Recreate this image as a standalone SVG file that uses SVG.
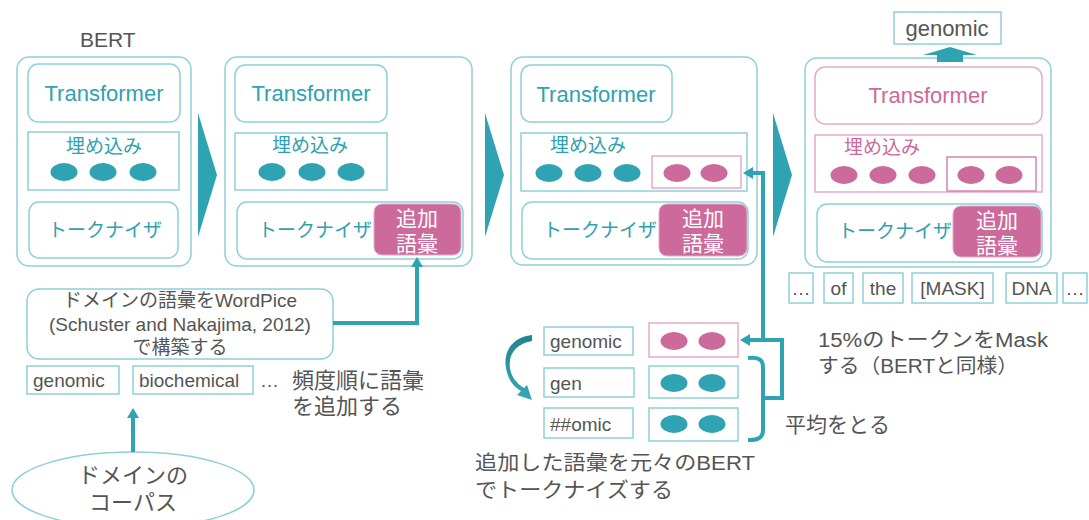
<svg xmlns="http://www.w3.org/2000/svg" width="1089" height="520" viewBox="0 0 1089 520">
  <defs>
    <style>
      text { font-family: "Liberation Sans", "Noto Sans CJK JP", sans-serif; }
      .box { fill: #fff; stroke: #8FD0D8; stroke-width: 1.5; }
      .pbox { fill: #fff; stroke: #E7A9C8; stroke-width: 1.5; }
      .pbox2 { fill: none; stroke: #D684AE; stroke-width: 1.5; }
      .vocab { fill: #CD6A9C; stroke: #E7A9C8; stroke-width: 1; }
      .tl { fill: #2FA1AF; }
      .pk { fill: #CC6A9B; }
      .gy { fill: #555; }
      .wt { fill: #fff; }
      .dot { fill: #2FA3B1; }
      .pdot { fill: #CC6A9B; }
      .conn { fill: none; stroke: #2FA3B1; stroke-width: 4; }
      .chev { fill: #2FA3B1; }
      .c { text-anchor: middle; }
    </style>
    <marker id="ah" viewBox="0 0 10 12" refX="0" refY="6" markerWidth="10" markerHeight="12" markerUnits="userSpaceOnUse" orient="auto">
      <path d="M0,0 L10,6 L0,12 z" fill="#2FA3B1"/>
    </marker>
    <linearGradient id="curveGrad" x1="0" y1="0" x2="0" y2="1">
      <stop offset="0" stop-color="#24838F"/>
      <stop offset="1" stop-color="#35A9B6"/>
    </linearGradient>
  </defs>

  <!-- stage 1: original BERT -->
  <g id="bert-original">
    <text x="80" y="47" font-size="21" class="gy">BERT</text>
    <rect x="17" y="57" width="174" height="209" rx="12" class="box"/>
    <rect x="28" y="64" width="152" height="58" rx="10" class="box"/>
    <text x="104" y="101" font-size="22" class="tl c">Transformer</text>
    <rect x="28" y="132" width="151" height="58" class="box"/>
    <text x="104" y="153" font-size="19" class="tl c">埋め込み</text>
    <ellipse cx="64" cy="172" rx="13.5" ry="9" class="dot"/>
    <ellipse cx="103" cy="172" rx="13.5" ry="9" class="dot"/>
    <ellipse cx="143" cy="172" rx="13.5" ry="9" class="dot"/>
    <rect x="29" y="202" width="149" height="56" rx="10" class="box"/>
    <text x="105" y="237" font-size="19" class="tl c">トークナイザ</text>
  </g>

  <!-- stage 2: vocabulary added to tokenizer -->
  <g id="bert-vocab">
    <rect x="225" y="57" width="247" height="209" rx="12" class="box"/>
    <rect x="235" y="65" width="152" height="57" rx="10" class="box"/>
    <text x="311" y="101" font-size="22" class="tl c">Transformer</text>
    <rect x="235" y="133" width="152" height="57" class="box"/>
    <text x="310" y="152" font-size="19" class="tl c">埋め込み</text>
    <ellipse cx="272" cy="172" rx="13.5" ry="9" class="dot"/>
    <ellipse cx="312" cy="172" rx="13.5" ry="9" class="dot"/>
    <ellipse cx="351" cy="172" rx="13.5" ry="9" class="dot"/>
    <rect x="237" y="202" width="226" height="57" rx="10" class="box"/>
    <text x="315" y="237" font-size="19" class="tl c">トークナイザ</text>
    <rect x="374" y="204" width="87" height="51" rx="8" class="vocab"/>
    <text x="417" y="226" font-size="21" class="wt c">追加</text>
    <text x="417" y="251" font-size="21" class="wt c">語彙</text>
  </g>

  <!-- stage 3: embeddings extended -->
  <g id="bert-embed">
    <rect x="511" y="57" width="246" height="208" rx="12" class="box"/>
    <rect x="521" y="65" width="151" height="57" rx="10" class="box"/>
    <text x="596" y="102" font-size="22" class="tl c">Transformer</text>
    <rect x="521" y="133" width="226" height="58" class="box"/>
    <text x="588" y="152" font-size="19" class="tl c">埋め込み</text>
    <ellipse cx="549" cy="173" rx="13.5" ry="9" class="dot"/>
    <ellipse cx="588" cy="173" rx="13.5" ry="9" class="dot"/>
    <ellipse cx="627" cy="173" rx="13.5" ry="9" class="dot"/>
    <rect x="652" y="156" width="89" height="32" class="pbox"/>
    <ellipse cx="677" cy="173" rx="13.5" ry="9" class="pdot"/>
    <ellipse cx="714" cy="173" rx="13.5" ry="9" class="pdot"/>
    <rect x="522" y="202" width="226" height="57" rx="10" class="box"/>
    <text x="600" y="237" font-size="19" class="tl c">トークナイザ</text>
    <rect x="659" y="204" width="88" height="52" rx="8" class="vocab"/>
    <text x="703" y="226" font-size="21" class="wt c">追加</text>
    <text x="703" y="251" font-size="21" class="wt c">語彙</text>
  </g>

  <!-- stage 4: masked LM training -->
  <g id="bert-train">
    <rect x="805" y="58" width="246" height="209" rx="12" class="box"/>
    <rect x="815" y="67" width="227" height="57" rx="10" class="pbox"/>
    <text x="928" y="103" font-size="22" class="pk c">Transformer</text>
    <rect x="815" y="135" width="227" height="57" class="pbox"/>
    <text x="882" y="154" font-size="19" class="pk c">埋め込み</text>
    <ellipse cx="844" cy="175" rx="13.5" ry="9" class="pdot"/>
    <ellipse cx="883" cy="175" rx="13.5" ry="9" class="pdot"/>
    <ellipse cx="922" cy="175" rx="13.5" ry="9" class="pdot"/>
    <rect x="947" y="157" width="89" height="34" class="pbox2"/>
    <ellipse cx="971" cy="175" rx="13.5" ry="9" class="pdot"/>
    <ellipse cx="1009" cy="175" rx="13.5" ry="9" class="pdot"/>
    <rect x="817" y="204" width="225" height="58" rx="10" class="box"/>
    <text x="895" y="238" font-size="19" class="tl c">トークナイザ</text>
    <rect x="953" y="206" width="88" height="51" rx="8" class="vocab"/>
    <text x="997" y="228" font-size="21" class="wt c">追加</text>
    <text x="997" y="253" font-size="21" class="wt c">語彙</text>
  </g>

  <!-- predicted token -->
  <g id="output-token">
    <rect x="894" y="12" width="107" height="32" class="box"/>
    <text x="947" y="36" font-size="22" class="gy c">genomic</text>
  </g>

  <!-- input sequence -->
  <g id="input-tokens" font-size="19">
    <rect x="789" y="273" width="24" height="30" class="box"/>
    <text x="801" y="295" class="gy c">…</text>
    <rect x="824" y="273" width="29" height="30" class="box"/>
    <text x="838.5" y="295" class="gy c">of</text>
    <rect x="863" y="273" width="40" height="30" class="box"/>
    <text x="883" y="295" class="gy c">the</text>
    <rect x="912" y="273" width="81" height="30" class="box"/>
    <text x="952.5" y="295" class="gy c">[MASK]</text>
    <rect x="1006" y="273" width="51" height="30" class="box"/>
    <text x="1031.5" y="295" class="gy c">DNA</text>
    <rect x="1063" y="273" width="24" height="30" class="box"/>
    <text x="1075" y="295" class="gy c">…</text>
  </g>

  <g id="mask-note" font-size="20" class="gy">
    <text x="818" y="347" textLength="230" lengthAdjust="spacingAndGlyphs">15%のトークンをMask</text>
    <text x="818" y="373" textLength="200" lengthAdjust="spacingAndGlyphs">する（BERTと同様）</text>
  </g>

  <!-- WordPiece vocabulary construction -->
  <g id="wordpiece">
    <rect x="27" y="289" width="306" height="70" rx="12" class="box"/>
    <text x="180" y="307" font-size="19" class="gy c">ドメインの語彙をWordPice</text>
    <text x="180" y="331" font-size="19" class="gy c">(Schuster and Nakajima, 2012)</text>
    <text x="180" y="354" font-size="19" class="gy c">で構築する</text>
  </g>

  <g id="vocab-list" font-size="19">
    <rect x="27" y="366" width="92" height="28" class="box"/>
    <text x="33" y="387" class="gy">genomic</text>
    <rect x="133" y="366" width="120" height="28" class="box"/>
    <text x="139" y="387" class="gy">biochemical</text>
    <text x="260" y="387" class="gy">…</text>
    <text x="292" y="388" font-size="22" class="gy">頻度順に語彙</text>
    <text x="292" y="414" font-size="22" class="gy">を追加する</text>
  </g>

  <g id="corpus">
    <ellipse cx="133" cy="490" rx="121" ry="38" class="box"/>
    <text x="133" y="483" font-size="22" class="gy c">ドメインの</text>
    <text x="133" y="510" font-size="22" class="gy c">コーパス</text>
  </g>

  <!-- subword split of a new word -->
  <g id="subwords" font-size="19">
    <rect x="544" y="327" width="89" height="28" class="box"/>
    <text x="550" y="348" class="gy">genomic</text>
    <rect x="649" y="323" width="89" height="34" class="pbox"/>
    <ellipse cx="674" cy="341" rx="13.5" ry="9" class="pdot"/>
    <ellipse cx="712" cy="341" rx="13.5" ry="9" class="pdot"/>

    <rect x="544" y="368" width="90" height="29" class="box"/>
    <text x="550" y="390" class="gy">gen</text>
    <rect x="649" y="366" width="89" height="32" class="box"/>
    <ellipse cx="674" cy="383" rx="13.5" ry="9" class="dot"/>
    <ellipse cx="712" cy="383" rx="13.5" ry="9" class="dot"/>

    <rect x="544" y="408" width="89" height="30" class="box"/>
    <text x="550" y="431" class="gy">##omic</text>
    <rect x="649" y="408" width="89" height="33" class="box"/>
    <ellipse cx="674" cy="424" rx="13.5" ry="9" class="dot"/>
    <ellipse cx="712" cy="424" rx="13.5" ry="9" class="dot"/>
  </g>

  <g id="subword-notes" class="gy">
    <text x="475" y="470" font-size="20" textLength="280" lengthAdjust="spacingAndGlyphs">追加した語彙を元々のBERT</text>
    <text x="475" y="497" font-size="21" textLength="198" lengthAdjust="spacingAndGlyphs">でトークナイズする</text>
    <text x="785" y="432" font-size="21">平均をとる</text>
  </g>

  <!-- connectors -->
  <g id="connectors">
    <!-- stage chevrons -->
    <polygon points="198,113 217,175 198,237" class="chev"/>
    <polygon points="485,113 504,175 485,237" class="chev"/>
    <polygon points="773,113 792,175 773,237" class="chev"/>

    <!-- WordPiece vocabulary into tokenizer -->
    <path d="M333,323 L417,323 L417,267" class="conn" marker-end="url(#ah)"/>
    <!-- corpus to vocabulary list -->
    <path d="M133,452 L133,418" class="conn" marker-end="url(#ah)"/>

    <!-- word to subword split -->
    <path d="M532,335 C512,337 503,352 506,368 C508,380 514,387 521,391 L517,395 L532,400 L527,385 L524,388 C516,383 511,376 510,368 C508,354 516,344 532,341 Z" fill="url(#curveGrad)"/>

    <!-- averaging brace -->
    <path d="M748,358 Q763,356 763,367 L763,430 Q763,441 748,440" class="conn"/>
    <path d="M763,398 L782,398 L782,340 L750,340" class="conn" marker-end="url(#ah)"/>
    <!-- averaged vector into new embedding -->
    <path d="M763,340 L763,173 L753,173" class="conn" marker-end="url(#ah)"/>

    <!-- prediction output -->
    <polygon points="937,62 937,55 923,55 950,47 977,55 963,55 963,62" class="chev"/>
  </g>
</svg>
